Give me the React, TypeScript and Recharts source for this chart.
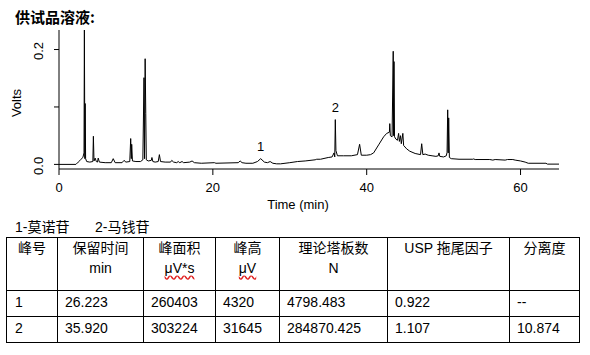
import React from "react";
import { LineChart, Line, XAxis, YAxis, ReferenceDot } from "recharts";

// chromatogram trace (time in min, signal in volts)
const traceTime = [
	0, 2.2, 2.5, 2.8, 3.1, 3.25, 3.3, 3.36, 3.4, 3.46, 3.6, 4.0, 4.4, 4.47, 4.55, 4.7, 4.85, 5.0, 5.1, 5.25,
	6.0, 6.8, 7.05, 7.3, 8.2, 8.45, 8.7, 9.2, 9.32, 9.4, 9.45, 9.55, 10.0, 10.6, 10.9, 11.05, 11.12, 11.2, 11.28, 11.35,
	11.6, 12.0, 12.08, 12.2, 12.5, 12.9, 13.05, 13.2, 13.8, 14.5, 14.66, 14.9, 15.3, 15.5, 15.7, 16.0, 16.2, 17.0, 17.3, 17.6,
	18.5, 20.2, 20.4, 23.3, 23.55, 23.8, 24.3, 25.2, 25.8, 26.22, 26.7, 27.1, 27.45, 27.8, 28.3, 28.8, 30.0, 31.0, 32.0, 33.3,
	33.5, 34.0, 35.0, 35.5, 35.75, 35.85, 35.92, 36.0, 36.2, 37.0, 38.0, 38.8, 39.08, 39.3, 40.0, 40.5, 40.9, 41.55, 42.2, 42.6,
	42.95, 43.0, 43.08, 43.3, 43.45, 43.5, 43.55, 43.62, 43.8, 44.0, 44.15, 44.25, 44.4, 44.5, 44.7, 44.8, 45.2, 45.6, 46.3, 47.0,
	47.15, 47.3, 47.6, 48.0, 48.5, 49.0, 49.3, 49.4, 49.5, 50.0, 50.35, 50.45, 50.53, 50.6, 50.66, 50.75, 51.0, 52.0, 53.8, 53.9,
	54.1, 56.0, 56.4, 56.7, 58.0, 58.3, 59.0, 59.3, 60.0, 60.6, 61.0, 63.3, 63.5, 65.0,
];
const traceVolts = [
	0, 0, 0.004, 0.008, 0.012, 0.02, 0.234, 0.01, 0.106, 0.01, 0.005, 0.004, 0.005, 0.049, 0.006, 0.011, 0.005, 0.004, 0.011, 0.004,
	0.003, 0.003, 0.01, 0.003, 0.003, 0.007, 0.004, 0.005, 0.045, 0.01, 0.035, 0.006, 0.005, 0.005, 0.008, 0.151, 0.01, 0.184, 0.089, 0.008,
	0.006, 0.007, 0.012, 0.005, 0.004, 0.005, 0.017, 0.005, 0.004, 0.004, 0.007, 0.004, 0.003, 0.005, 0.003, 0.005, 0.003, 0.004, 0.006, 0.003,
	0.002, 0.003, 0.002, 0.003, 0.006, 0.003, 0.002, 0.002, 0.005, 0.01, 0.004, 0.003, 0.005, 0.002, 0.001, 0.001, 0.003, 0.005, 0.006, 0.008,
	0.009, 0.009, 0.012, 0.013, 0.02, 0.013, 0.078, 0.024, 0.015, 0.015, 0.015, 0.017, 0.035, 0.016, 0.016, 0.017, 0.02, 0.034, 0.048, 0.054,
	0.056, 0.071, 0.05, 0.048, 0.197, 0.05, 0.179, 0.048, 0.044, 0.042, 0.054, 0.04, 0.05, 0.036, 0.054, 0.033, 0.027, 0.023, 0.019, 0.017,
	0.036, 0.017, 0.018, 0.016, 0.015, 0.014, 0.015, 0.02, 0.014, 0.013, 0.015, 0.021, 0.095, 0.02, 0.081, 0.012, 0.01, 0.009, 0.009, 0.0095,
	0.0085, 0.0085, 0.0075, 0.0085, 0.0075, 0.0085, 0.0085, 0.0075, 0.006, 0.004, 0.002, 0.002, 0.0005, 0.0005,
];

const timeTicks = [0, 20, 40, 60];
const voltTicks = [0, 0.1, 0.2];

// peak table
const peakNo = ["1", "2"];
const peakNames = ["莫诺苷", "马钱苷"];
const retention = [26.223, 35.92];
const peakArea = [260403, 303224];
const peakHeight = [4320, 31645];
const plates = [4798.483, 284870.425];
const tailing = [0.922, 1.107];
const resolution: (number | null)[] = [null, 10.874];
const labelVolts = [0.031, 0.0985];

const rows = traceTime.map((t, i) => ({ t, v: traceVolts[i] }));

const latin = "'Liberation Sans', Arial, 'Noto Sans CJK SC', sans-serif";

const XTick = (props: any) => {
	const { x, payload } = props;
	return (
		<text x={x} y={192} textAnchor="middle" fontSize={13} fill="#000" fontFamily={latin}>
			{payload.value}
		</text>
	);
};

const YTick = (props: any) => {
	const { y, payload } = props;
	if (payload.value === 0.1) return <g />;
	const cy = y + 1.5;
	return (
		<text
			x={39}
			y={cy}
			transform={`rotate(-90, 39, ${cy})`}
			textAnchor="middle"
			dominantBaseline="central"
			fontSize={13}
			fill="#000"
			fontFamily={latin}
		>
			{payload.value.toFixed(1)}
		</text>
	);
};

const headers = [
	["峰号", ""],
	["保留时间", "min"],
	["峰面积", "μV*s"],
	["峰高", "μV"],
	["理论塔板数", "N"],
	["USP 拖尾因子", ""],
	["分离度", ""],
];
const colWidths = [51, 86, 72, 64, 108, 122, 70];
const cell: React.CSSProperties = { border: "1px solid #000", padding: 0 };
const wavy: React.CSSProperties = {
	textDecoration: "underline wavy #e02020",
	textDecorationSkipInk: "none",
	textUnderlineOffset: 2,
};

export default function App() {
	return (
		<div style={{ position: "absolute", left: 0, top: 0, width: 590, height: 355, background: "#fff", fontFamily: latin, color: "#000" }}>
			<div style={{ position: "absolute", left: 15, top: 8, fontSize: 15, lineHeight: "18px", fontWeight: "bold", fontFamily: "'Noto Sans CJK SC', sans-serif" }}>
				供试品溶液:
			</div>
			<div style={{ position: "absolute", left: 0, top: 0 }}>
				<LineChart width={590} height={215} data={rows} margin={{ top: 30, right: 31, left: 0, bottom: 0 }}>
					<XAxis
						dataKey="t"
						type="number"
						domain={[0, 65]}
						ticks={timeTicks}
						height={46}
						tickSize={6}
						stroke="#000"
						tick={XTick}
						allowDataOverflow
						label={{
							content: () => (
								<text x={298} y={209} textAnchor="middle" fontSize={13} fill="#000" fontFamily={latin}>
									Time (min)
								</text>
							),
						}}
					/>
					<YAxis
						type="number"
						domain={[-0.008, 0.234]}
						ticks={voltTicks}
						width={59}
						tickSize={5}
						stroke="#000"
						tick={YTick}
						allowDataOverflow
						label={{
							content: () => (
								<text
									x={16}
									y={103}
									transform="rotate(-90, 16, 103)"
									textAnchor="middle"
									dominantBaseline="central"
									fontSize={13}
									fill="#000"
									fontFamily={latin}
								>
									Volts
								</text>
							),
						}}
					/>
					<Line dataKey="v" type="linear" stroke="#000" strokeWidth={1} dot={false} isAnimationActive={false} />
					{peakNo.map((p, i) => (
						<ReferenceDot
							key={p}
							x={retention[i]}
							y={labelVolts[i]}
							r={0}
							fill="none"
							stroke="none"
							label={{ value: p, position: "center", fill: "#000", fontSize: 13, fontFamily: latin }}
						/>
					))}
				</LineChart>
			</div>
			<div style={{ position: "absolute", left: 15, top: 218, fontSize: 14, lineHeight: "18px", whiteSpace: "pre" }}>
				<span>{peakNo[0]}-{peakNames[0]}</span>
				<span style={{ position: "absolute", left: 80 }}>{peakNo[1]}-{peakNames[1]}</span>
			</div>
			<table
				style={{
					position: "absolute",
					left: 6,
					top: 237,
					width: 573,
					borderCollapse: "collapse",
					tableLayout: "fixed",
					fontSize: 14,
				}}
			>
				<colgroup>
					{colWidths.map((w, i) => (
						<col key={i} style={{ width: w }} />
					))}
				</colgroup>
				<tbody>
					<tr style={{ height: 53 }}>
						{headers.map(([a, b], i) => (
							<td key={i} style={{ ...cell, verticalAlign: "top", textAlign: "center", lineHeight: "20px", paddingTop: 0 }}>
								<div>{a}</div>
								<div>{b ? <span style={i === 2 || i === 3 ? wavy : undefined}>{b}</span> : "\u00a0"}</div>
							</td>
						))}
					</tr>
					{peakNo.map((p, i) => (
						<tr key={p} style={{ height: 26 }}>
							{[
								p,
								retention[i].toFixed(3),
								String(peakArea[i]),
								String(peakHeight[i]),
								plates[i].toFixed(3),
								tailing[i].toFixed(3),
								resolution[i] == null ? "--" : (resolution[i] as number).toFixed(3),
							].map((v, j) => (
								<td key={j} style={{ ...cell, lineHeight: "18px", paddingLeft: j === 0 ? 8 : 7, paddingBottom: 3, verticalAlign: "middle" }}>
									{v}
								</td>
							))}
						</tr>
					))}
				</tbody>
			</table>
		</div>
	);
}
